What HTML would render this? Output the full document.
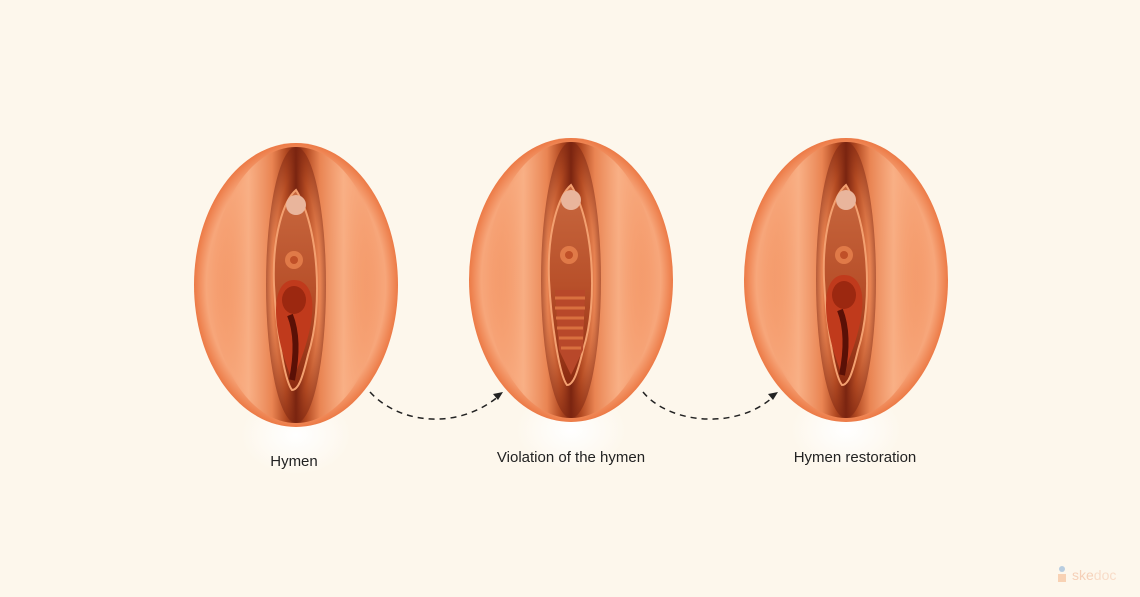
<!DOCTYPE html>
<html><head><meta charset="utf-8"><style>
html,body{margin:0;padding:0;background:#fdf7ec;}
svg{display:block}
text{font-family:"Liberation Sans",sans-serif;}
</style></head><body>
<svg width="1140" height="597" viewBox="0 0 1140 597" xmlns="http://www.w3.org/2000/svg">
<defs>
<radialGradient id="outer" cx="0.5" cy="0.5" r="0.5">
<stop offset="0" stop-color="#d06a3c"/>
<stop offset="0.6" stop-color="#f39564"/>
<stop offset="0.88" stop-color="#f7a67a"/>
<stop offset="1" stop-color="#ec7a46"/>
</radialGradient>
<linearGradient id="lips" x1="0" x2="1" y1="0" y2="0">
<stop offset="0" stop-color="#f39564" stop-opacity="0"/>
<stop offset="0.22" stop-color="#f9b187" stop-opacity="0.9"/>
<stop offset="0.36" stop-color="#e98452"/>
<stop offset="0.44" stop-color="#b34a22"/>
<stop offset="0.5" stop-color="#7a2410"/>
<stop offset="0.56" stop-color="#b34a22"/>
<stop offset="0.64" stop-color="#e98452"/>
<stop offset="0.78" stop-color="#f9b187" stop-opacity="0.9"/>
<stop offset="1" stop-color="#f39564" stop-opacity="0"/>
</linearGradient>
<linearGradient id="inner" x1="0" x2="0" y1="0" y2="1">
<stop offset="0" stop-color="#c8683f"/>
<stop offset="0.5" stop-color="#b8502a"/>
<stop offset="1" stop-color="#8a2a10"/>
</linearGradient>
<radialGradient id="shadow" cx="0.5" cy="0.5" r="0.5">
<stop offset="0" stop-color="#ffffff"/>
<stop offset="1" stop-color="#fdf7ec"/>
</radialGradient>
<radialGradient id="edge" cx="0.5" cy="0.5" r="0.5">
<stop offset="0.8" stop-color="#7a2410" stop-opacity="0"/>
<stop offset="1" stop-color="#7a2410" stop-opacity="0.5"/>
</radialGradient>
<g id="fig">
<ellipse cx="0" cy="150" rx="55" ry="40" fill="url(#shadow)"/>
<ellipse cx="0" cy="0" rx="102" ry="142" fill="url(#outer)"/>
<ellipse cx="0" cy="0" rx="85" ry="138" fill="url(#lips)"/>
<ellipse cx="0" cy="0" rx="30" ry="138" fill="url(#edge)"/>
<path d="M0,-95 C22,-60 28,20 12,70 C6,95 2,105 -4,105 C-12,95 -20,40 -22,0 C-24,-50 -12,-85 0,-95Z" fill="url(#inner)" stroke="#f3a070" stroke-width="2"/>
<ellipse cx="0" cy="-80" rx="10" ry="10" fill="#e9b59c"/>
<circle cx="-2" cy="-25" r="9" fill="#e07a48"/>
<circle cx="-2" cy="-25" r="4" fill="#c05028"/>
</g>
<g id="hymA">
<path d="M-2,0 C14,0 18,18 16,35 C14,55 6,80 -4,100 C-14,75 -20,50 -20,30 C-20,12 -14,0 -2,0Z" fill="#c03a1c"/>
<ellipse cx="-2" cy="20" rx="12" ry="14" fill="#9c2810"/>
<path d="M-6,35 C0,50 2,70 -4,100" stroke="#5a1006" stroke-width="6" fill="none"/>
</g>
</defs>
<use href="#fig" x="296" y="285"/>
<use href="#hymA" x="296" y="280"/>
<use href="#fig" x="571" y="280"/>
<g transform="translate(571,290)">
<path d="M-16,0 L14,0 L12,60 L0,85 L-12,60Z" fill="#b8482a"/>
<path d="M-16,8 h30 M-16,18 h30 M-15,28 h28 M-14,38 h26 M-12,48 h24 M-10,58 h20" stroke="#d8703f" stroke-width="3"/>
</g>
<use href="#fig" x="846" y="280"/>
<use href="#hymA" x="846" y="275"/>
<path d="M370,392 C400,425 460,430 500,395" fill="none" stroke="#222" stroke-width="1.5" stroke-dasharray="6,5"/>
<path d="M503,392 l-10,2 l5,6z" fill="#222"/>
<path d="M643,392 C670,425 740,430 775,395" fill="none" stroke="#222" stroke-width="1.5" stroke-dasharray="6,5"/>
<path d="M778,392 l-10,2 l5,6z" fill="#222"/>
<text x="294" y="466" font-size="15" fill="#222" text-anchor="middle">Hymen</text>
<text x="571" y="462" font-size="15" fill="#222" text-anchor="middle">Violation of the hymen</text>
<text x="855" y="462" font-size="15" fill="#222" text-anchor="middle">Hymen restoration</text>
<circle cx="1062" cy="569" r="3" fill="#b8cde0"/>
<rect x="1058" y="574" width="8" height="8" fill="#f8d2b4"/>
<text x="1072" y="580" font-size="14" fill="#f5d0b8">ske<tspan fill="#f8dcc8">doc</tspan></text>
</svg>
</body></html>
